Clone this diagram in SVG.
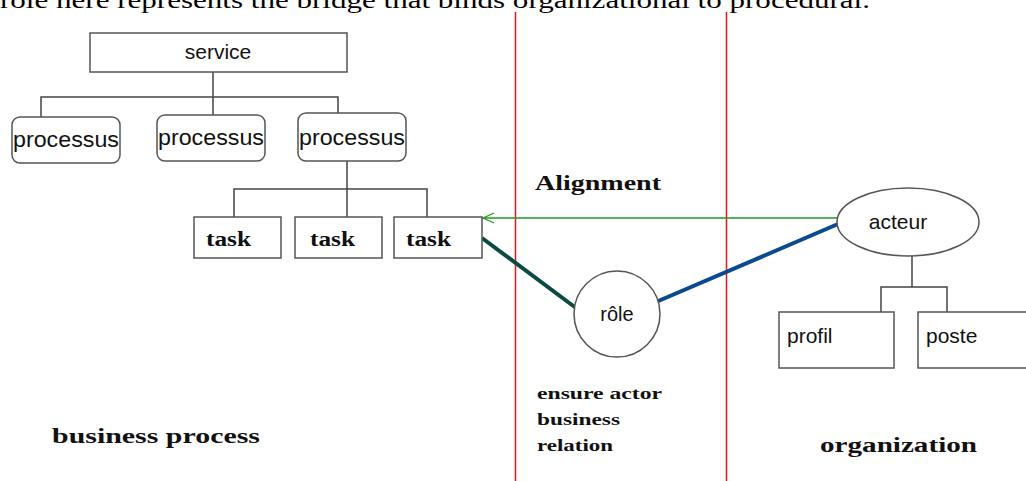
<svg xmlns="http://www.w3.org/2000/svg" width="1026" height="481" viewBox="0 0 1026 481">
<defs>
<style>
.box{fill:#fff;stroke:#555;stroke-width:1.5}
.ln{fill:none;stroke:#444;stroke-width:1.5}
.sans{font-family:"Liberation Sans",Arial,sans-serif;fill:#111}
.ser{font-family:"Liberation Serif","Times New Roman",serif;font-weight:bold;fill:#111}
.red{stroke:#e8141b;stroke-width:1.5}
</style>
<marker id="open" markerWidth="14" markerHeight="12" refX="12" refY="6" orient="auto" markerUnits="userSpaceOnUse">
<path d="M1,1 L12,6 L1,11" fill="none" stroke="#1e9a1e" stroke-width="1.2"/>
</marker>
</defs>
<rect width="1026" height="481" fill="#fff"/>
<text x="0" y="8" font-family="'Liberation Serif',serif" font-size="24" fill="#000" textLength="870" lengthAdjust="spacingAndGlyphs">role here represents the bridge that binds organizational to procedural.</text>
<g id="dividers">
<line class="red" x1="515.5" y1="12" x2="515.5" y2="481"/>
<line class="red" x1="726.5" y1="12" x2="726.5" y2="481"/>
</g>
<g id="connectors">
<path class="ln" d="M213,72 V97 M41,117 V97 H338 V113 M213,97 V115"/>
<path class="ln" d="M347,161 V189 M234,217 V189 H427 V217 M347,189 V217"/>
<path class="ln" d="M912,256 V287 M881,312 V287 H947 V312"/>
<line x1="837" y1="218" x2="483" y2="218" stroke="#1e9a1e" stroke-width="1.3" marker-end="url(#open)"/>
<line x1="482" y1="238" x2="576" y2="308" stroke="#0b4a42" stroke-width="4"/>
<line x1="656" y1="302" x2="838" y2="224" stroke="#0b4a8c" stroke-width="4"/>
</g>
<g id="service">
<rect class="box" x="90" y="33" width="257" height="39"/>
<text class="sans" x="218" y="59" font-size="21" text-anchor="middle">service</text>
</g>
<g id="processus1">
<rect class="box" x="12" y="117" width="108" height="46" rx="8"/>
<text class="sans" x="66" y="147" font-size="22" text-anchor="middle" textLength="106" lengthAdjust="spacingAndGlyphs">processus</text>
</g>
<g id="processus2">
<rect class="box" x="157" y="115" width="108" height="46" rx="8"/>
<text class="sans" x="211" y="145" font-size="22" text-anchor="middle" textLength="106" lengthAdjust="spacingAndGlyphs">processus</text>
</g>
<g id="processus3">
<rect class="box" x="298" y="113" width="108" height="48" rx="8"/>
<text class="sans" x="352" y="145" font-size="22" text-anchor="middle" textLength="106" lengthAdjust="spacingAndGlyphs">processus</text>
</g>
<g id="task1">
<rect class="box" x="194" y="217" width="87" height="41"/>
<text class="ser" x="206" y="246" font-size="20" textLength="45" lengthAdjust="spacingAndGlyphs">task</text>
</g>
<g id="task2">
<rect class="box" x="295" y="217" width="87" height="41"/>
<text class="ser" x="310" y="246" font-size="20" textLength="45" lengthAdjust="spacingAndGlyphs">task</text>
</g>
<g id="task3">
<rect class="box" x="394" y="217" width="88" height="41"/>
<text class="ser" x="406" y="246" font-size="20" textLength="45" lengthAdjust="spacingAndGlyphs">task</text>
</g>
<g id="role">
<circle class="box" cx="617" cy="314" r="43"/>
<text class="sans" x="617" y="321" font-size="20" text-anchor="middle">rôle</text>
</g>
<g id="acteur">
<ellipse class="box" cx="908" cy="222" rx="71" ry="34"/>
<text class="sans" x="898" y="229" font-size="21" text-anchor="middle">acteur</text>
</g>
<g id="profil">
<rect class="box" x="779" y="312" width="115" height="56"/>
<text class="sans" x="787" y="343" font-size="21">profil</text>
</g>
<g id="poste">
<rect class="box" x="918" y="312" width="115" height="56"/>
<text class="sans" x="926" y="343" font-size="21">poste</text>
</g>
<g id="labels">
<text class="ser" x="535" y="190" font-size="20" textLength="126" lengthAdjust="spacingAndGlyphs">Alignment</text>
<text class="ser" x="52" y="443" font-size="20" textLength="208" lengthAdjust="spacingAndGlyphs">business process</text>
<text class="ser" x="820" y="452" font-size="20" textLength="157" lengthAdjust="spacingAndGlyphs">organization</text>
<text class="ser" x="537" y="399" font-size="17" textLength="125" lengthAdjust="spacingAndGlyphs">ensure actor</text>
<text class="ser" x="537" y="425" font-size="17" textLength="83" lengthAdjust="spacingAndGlyphs">business</text>
<text class="ser" x="537" y="451" font-size="17" textLength="76" lengthAdjust="spacingAndGlyphs">relation</text>
</g>
</svg>
